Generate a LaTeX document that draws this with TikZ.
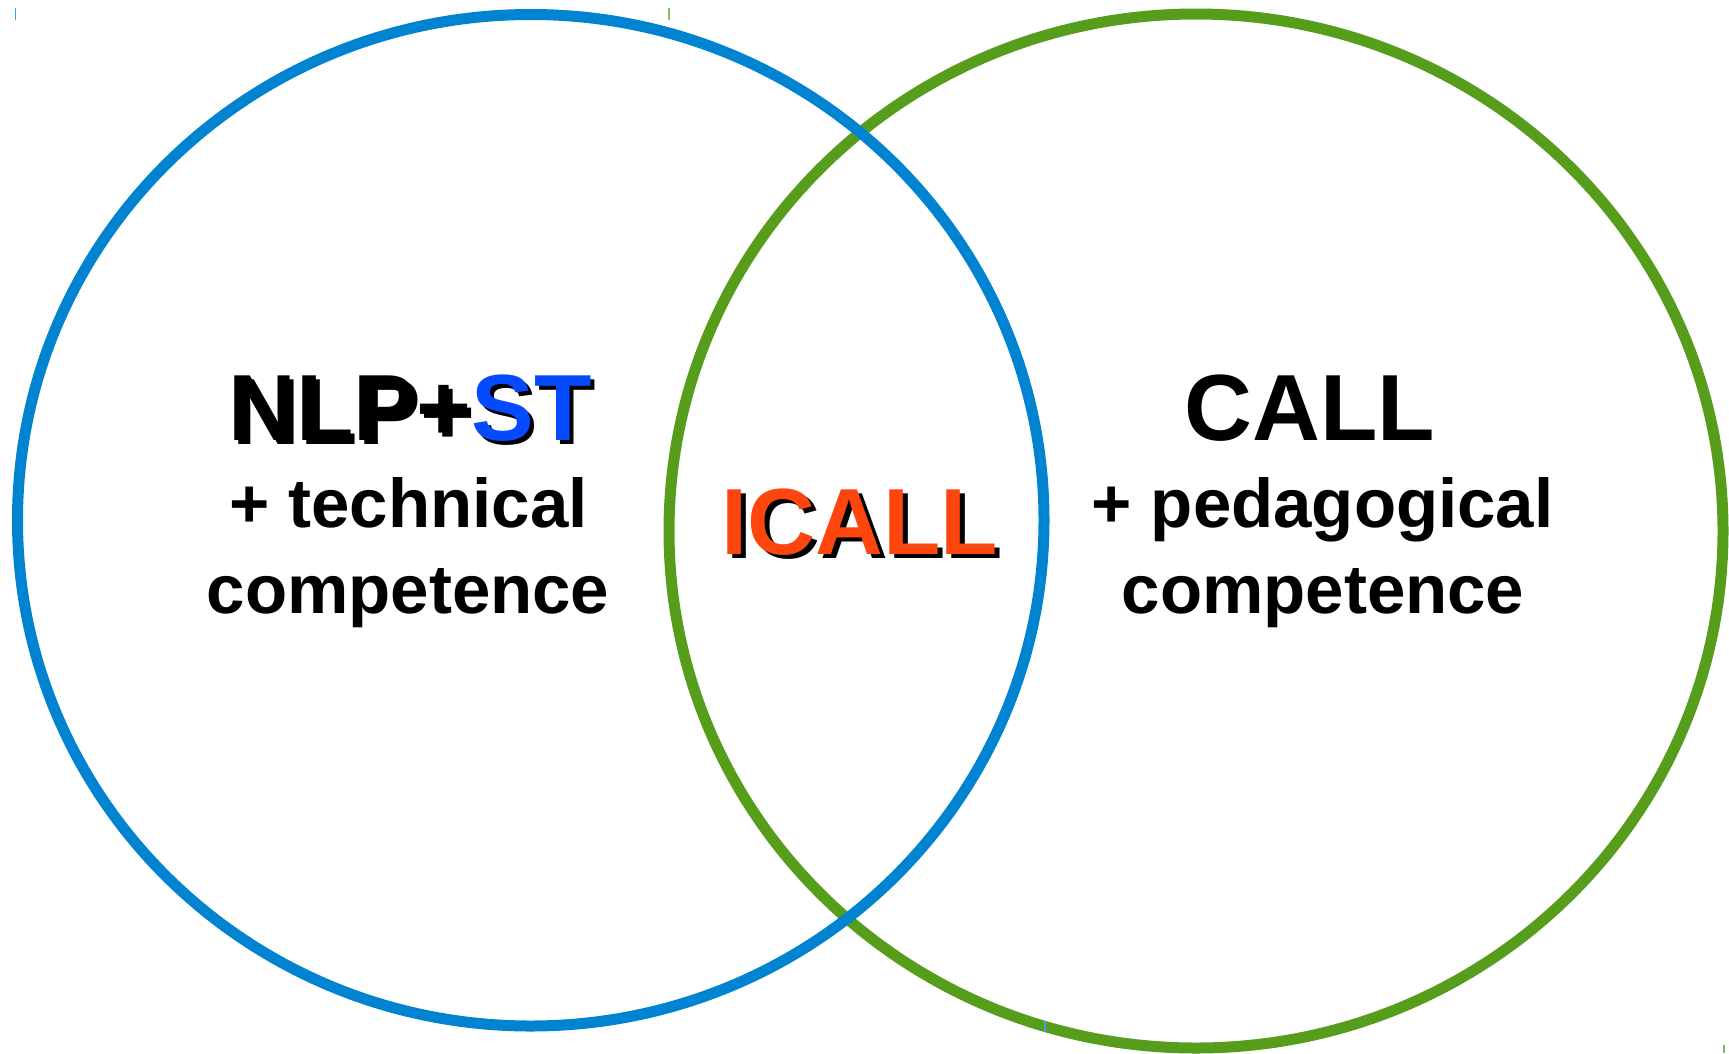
\documentclass[tikz,border=0pt]{standalone}
\usepackage{fontspec}
\setmainfont{Liberation Sans}
\definecolor{ringblue}{RGB}{0,132,209}
\definecolor{ringgreen}{RGB}{87,157,28}
\definecolor{stblue}{RGB}{6,74,255}
\definecolor{icallred}{RGB}{255,69,14}
\definecolor{tickblue}{RGB}{60,160,230}
\definecolor{tickgreen}{RGB}{130,190,90}
\newcommand{\shadowed}[2]{\makebox[0pt][l]{\hspace{4.5pt}\raisebox{-4.5pt}{\color{black}#1}}#2}
\tikzset{
  ring/.style={line width=11pt},
  big/.style={anchor=base, inner sep=0pt, font=\fontsize{94}{100}\selectfont\bfseries},
  small/.style={anchor=base, inner sep=0pt, font=\fontsize{69}{80}\selectfont\bfseries},
  tickmark/.style={line width=1.5pt}
}
\begin{document}
\begin{tikzpicture}[x=1pt,y=-1pt]
\useasboundingbox (0,0) rectangle (1729,1053);
% rings
\draw[ring, ringgreen] (1196,531) ellipse [x radius=527, y radius=517];
\draw[ring, ringblue] (530.75,520.25) ellipse [x radius=513.25, y radius=505.75];
% corner ticks
\draw[tickmark, tickblue] (15.5,8) -- (15.5,20);
\draw[tickmark, tickgreen] (669,8) -- (669,20);
\draw[tickmark, tickblue] (1045,1021) -- (1045,1032);
\draw[tickmark, tickgreen] (1724,1045) -- (1724,1053);
% left texts
\node[big] (nlp) at (410,440) {\shadowed{NLP+ST}{NLP+\textcolor{stblue}{ST}}};
\node[small] (tech) at (408.5,527) {+ technical};
\node[small] (compL) at (408,613) {competence};
% centre text
\node[big] (icall) at (860,554) {\shadowed{ICALL}{\textcolor{icallred}{ICALL}}};
% right texts
\node[big] (call) at (1310,440) {CALL};
\node[small] (peda) at (1322.5,527) {+ pedagogical};
\node[small] (compR) at (1323,613) {competence};
\end{tikzpicture}
\end{document}
